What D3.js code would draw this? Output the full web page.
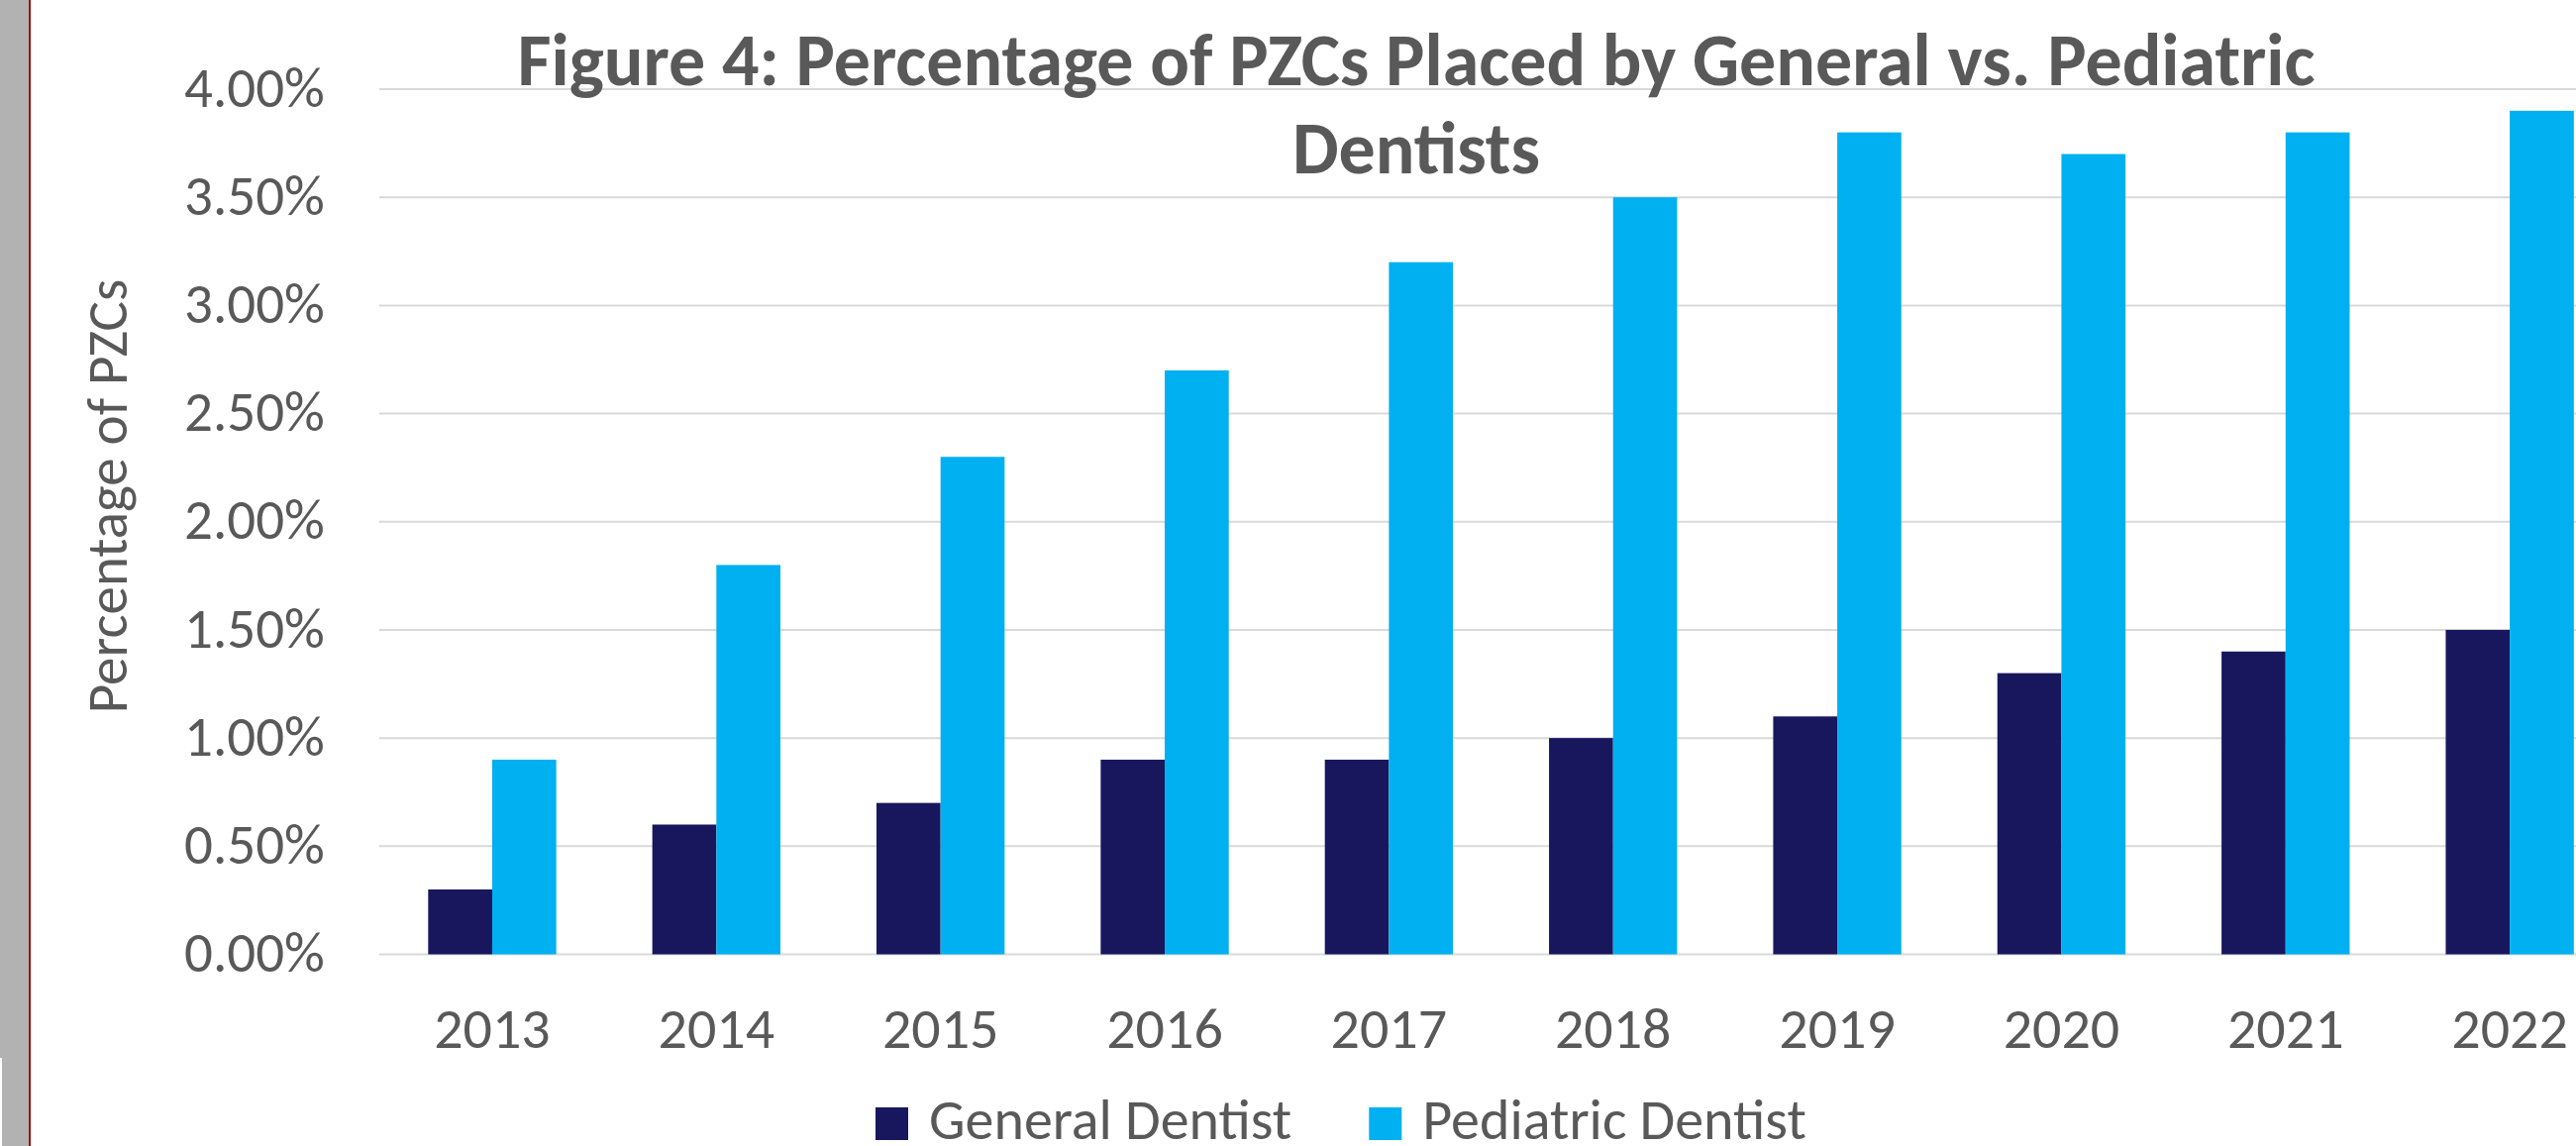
<!DOCTYPE html>
<html>
<head>
<meta charset="utf-8">
<script src="https://cdn.jsdelivr.net/npm/d3@7"></script>
<style>
  html, body { margin: 0; padding: 0; background: #ffffff; }
  svg { display: block; }
  text { font-family: Carlito, Calibri, Lato, "Open Sans", sans-serif; fill: #595959; }
</style>
</head>
<body>
<script>
// ---- data ----
const years = ["2013", "2014", "2015", "2016", "2017", "2018", "2019", "2020", "2021", "2022"];
const generalDentist = [0.3, 0.6, 0.7, 0.9, 0.9, 1.0, 1.1, 1.3, 1.4, 1.5];
const pediatricDentist = [0.9, 1.8, 2.3, 2.7, 3.2, 3.5, 3.8, 3.7, 3.8, 3.9];
const seriesNames = ["General Dentist", "Pediatric Dentist"];
const yTicks = [0, 0.5, 1.0, 1.5, 2.0, 2.5, 3.0, 3.5, 4.0];
const titleLines = ["Figure 4: Percentage of PZCs Placed by General vs. Pediatric", "Dentists"];
const yAxisTitle = "Percentage of PZCs";

// ---- layout / styles ----
const W = 2601, H = 1157;
const colors = ["#18175E", "#00B0F0"];
const textGray = "#595959";
const gridGray = "#D9D9D9";
const fontFamily = "Carlito, Calibri, Lato, sans-serif";
const fs = 58;

const svg = d3.select("body").append("svg").attr("width", W).attr("height", H);
svg.append("rect").attr("width", W).attr("height", H).attr("fill", "#fff");

// left slide edge
svg.append("rect").attr("x", 0).attr("y", 0).attr("width", 29).attr("height", H).attr("fill", "#B2B2B2");
svg.append("rect").attr("x", 0).attr("y", 1068).attr("width", 2).attr("height", H - 1068).attr("fill", "#fff");
svg.append("rect").attr("x", 29).attr("y", 0).attr("width", 2).attr("height", H).attr("fill", "#A01010");

const plotLeft = 383.8, plotRight = 2647.3, plotTop = 90, plotBottom = 963.5;

const x = d3.scaleBand().domain(years).range([plotLeft, plotRight])
  .paddingInner(1.5 / 3.5).paddingOuter(0.75 / 3.5);
const xInner = d3.scaleBand().domain(seriesNames).range([0, x.bandwidth()]);
const y = d3.scaleLinear().domain([0, 4]).range([plotBottom, plotTop]);

// gridlines
svg.append("g").selectAll("line").data(yTicks).join("line")
  .attr("x1", plotLeft - 1).attr("x2", W)
  .attr("y1", d => y(d)).attr("y2", d => y(d))
  .attr("stroke", gridGray).attr("stroke-width", 2);

// bars
const rows = years.map((yr, i) => ({ year: yr, values: [generalDentist[i], pediatricDentist[i]] }));
const groups = svg.append("g").selectAll("g").data(rows).join("g")
  .attr("transform", d => `translate(${x(d.year)},0)`);
groups.selectAll("rect").data(d => d.values.map((v, j) => ({ name: seriesNames[j], v, j }))).join("rect")
  .attr("x", d => xInner(d.name))
  .attr("width", xInner.bandwidth())
  .attr("y", d => y(d.v))
  .attr("height", d => y(0) - y(d.v))
  .attr("fill", d => colors[d.j]);

// y axis
const yAxis = svg.append("g").attr("transform", `translate(${plotLeft},0)`)
  .call(d3.axisLeft(y).tickValues(yTicks).tickFormat(d => d.toFixed(2) + "%").tickSize(0).tickPadding(56));
yAxis.select(".domain").remove();
yAxis.selectAll("text").attr("font-size", fs - 1).attr("fill", textGray)
  .attr("font-family", fontFamily).attr("dy", "0.3em");

// x axis
const xAxis = svg.append("g").attr("transform", `translate(0,${plotBottom})`)
  .call(d3.axisBottom(x).tickSize(0).tickPadding(53));
xAxis.select(".domain").remove();
xAxis.selectAll("text").attr("font-size", fs).attr("fill", textGray)
  .attr("font-family", fontFamily);

// title
const titleG = svg.append("g");
titleG.selectAll("text").data(titleLines).join("text")
  .attr("x", 1430).attr("y", (d, i) => 86 + i * 89)
  .attr("text-anchor", "middle")
  .attr("font-size", 74).attr("font-weight", "bold")
  .text(d => d);

// y axis title
svg.append("text")
  .attr("transform", `translate(128,501) rotate(-90)`)
  .attr("text-anchor", "middle")
  .attr("font-size", 57)
  .text(yAxisTitle);

// legend
const legend = svg.append("g");
let lx = 884;
seriesNames.forEach((name, i) => {
  legend.append("rect").attr("x", lx).attr("y", 1118).attr("width", 33).attr("height", 33).attr("fill", colors[i]);
  const t = legend.append("text").attr("x", lx + 54).attr("y", 1150).attr("font-size", fs).text(name);
  lx = lx + 54 + t.node().getComputedTextLength() + 78;
});
</script>
</body>
</html>
